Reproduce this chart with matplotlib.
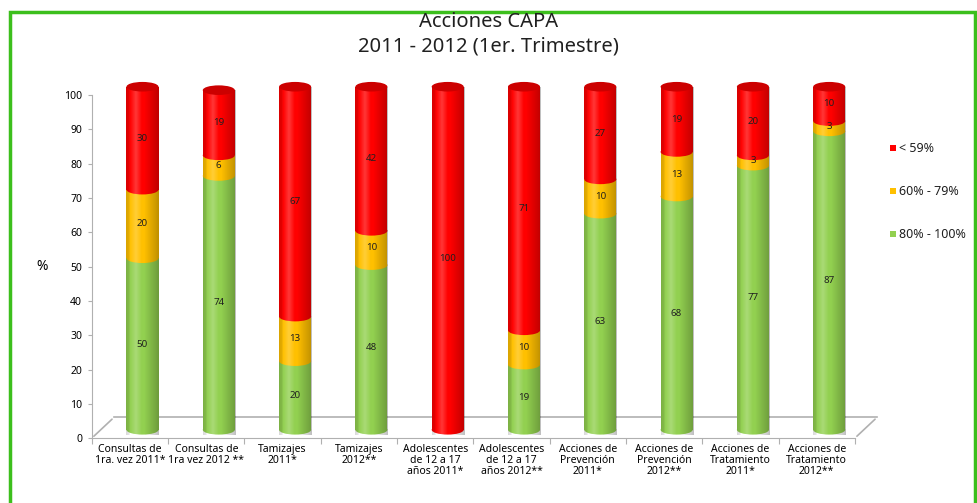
import matplotlib.pyplot as plt
import matplotlib.transforms as mtransforms
from matplotlib.patches import Ellipse, Rectangle
import numpy as np

plt.rcParams['font.family'] = ['Noto Sans', 'DejaVu Sans']

# Datos del grafico
categorias = ['Consultas de\n1ra. vez 2011*', 'Consultas de\n1ra vez 2012 **', 'Tamizajes\n2011*',
              'Tamizajes\n2012**', 'Adolescentes\nde 12 a 17\naños 2011*', 'Adolescentes\nde 12 a 17\naños 2012**',
              'Acciones de\nPrevención\n2011*', 'Acciones de\nPrevención\n2012**',
              'Acciones de\nTratamiento\n2011*', 'Acciones de\nTratamiento\n2012**']
verde = [50, 74, 20, 48, 0, 19, 63, 68, 77, 87]      # 80% - 100%
amarillo = [20, 6, 13, 10, 0, 10, 10, 13, 3, 3]     # 60% - 79%
rojo = [30, 19, 67, 42, 100, 71, 27, 19, 20, 10]    # < 59%
series = [('80% - 100%', verde, '#92d050'), ('60% - 79%', amarillo, '#ffc000'), ('< 59%', rojo, '#ff0000')]
oscuros = {'#92d050': '#6aa82a', '#ffc000': '#e09a00', '#ff0000': '#cc0000'}

fig = plt.figure(figsize=(9.77, 5.03), dpi=100)
ax = fig.add_axes([0.094, 0.129, 0.781, 0.682])

# Marco verde
fig.patches.append(Rectangle((10 / 977, -0.05), 965 / 977, 1 - 12 / 503 + 0.05, transform=fig.transFigure,
                             fill=False, edgecolor='#3cbf1c', linewidth=2.5))

x = np.arange(len(categorias))
ancho = 0.42
ax.set_xlim(-0.5, len(categorias) - 0.5)
ax.set_ylim(0, 100)

# Piso 3D
prof = mtransforms.offset_copy(ax.transData, fig=fig, x=16, y=15, units='points')
ax.plot([-0.5, 9.5], [0, 0], color='#b0b0b0', lw=1.2, transform=prof, clip_on=False)
for xa in (-0.5, 9.5):
    ax.annotate('', xy=(xa, 0), xycoords=prof, xytext=(xa, 0), textcoords='data',
                arrowprops=dict(arrowstyle='-', color='#b0b0b0', lw=1.2), annotation_clip=False)

# Barras cilindricas (desplazadas a media profundidad)
tb = mtransforms.offset_copy(ax.transData, fig=fig, x=9, y=6, units='points')
grad = np.linspace(-1, 1, 60)
sombra = np.zeros((1, 60, 4))
s = np.where(grad < -0.4, -(grad + 0.4) / 0.6 * 0.15, 0) + np.where(grad > 0.1, (grad - 0.1) * 0.28, 0)
luz = np.clip(0.22 - np.abs(grad + 0.4) * 0.6, 0, None)
sombra[0, :, :3] = np.where((luz > 0)[:, None], 1.0, 0.0)
sombra[0, :, 3] = np.where(luz > 0, luz, s)
eh = 2.8
for i in range(len(categorias)):
    base = 0
    segs = []
    for nombre, vals, col in series:
        v = vals[i]
        if v == 0:
            continue
        segs.append((base, v, col))
        base += v
    for k, (b, v, col) in enumerate(segs):
        ax.add_patch(Rectangle((x[i] - ancho / 2, b), ancho, v, facecolor=col, edgecolor='none',
                               transform=tb, clip_on=False, zorder=2))
        ax.add_patch(Ellipse((x[i], b), ancho, eh, facecolor=col, edgecolor='none',
                             transform=tb, clip_on=False, zorder=2.5 + k))
        ax.text(x[i], b + v / 2, str(v), transform=tb, ha='center', va='center', fontsize=7,
                color='#202020', zorder=6)
    tot = segs[-1][0] + segs[-1][1]
    ax.imshow(sombra, extent=(x[i] - ancho / 2, x[i] + ancho / 2, -eh / 2, tot), aspect='auto',
              transform=tb, zorder=5, clip_on=False, interpolation='bilinear')
    ax.add_patch(Ellipse((x[i], tot), ancho, eh, facecolor=oscuros[segs[-1][2]], edgecolor='none',
                         transform=tb, clip_on=False, zorder=5.5))
ax.set_xlim(-0.5, len(categorias) - 0.5)
ax.set_ylim(0, 100)

# Ejes
ax.set_yticks(np.arange(0, 101, 10))
ax.set_xticks(np.arange(-0.5, len(categorias), 1))
ax.set_xticklabels([])
ax.set_xticks(x, minor=True)
ax.set_xticklabels(categorias, minor=True, fontsize=7.5, linespacing=1.05)
ax.tick_params(axis='x', which='minor', length=0, pad=4)
ax.tick_params(axis='x', which='major', length=4, color='#b0b0b0')
ax.tick_params(axis='y', labelsize=7.5, length=3, color='#b0b0b0', pad=4)
for lado in ('top', 'right'):
    ax.spines[lado].set_visible(False)
ax.spines['left'].set_color('#b0b0b0')
ax.spines['bottom'].set_color('#b0b0b0')
ax.set_ylabel('%', rotation=0, fontsize=10, labelpad=16, va='center')

fig.text(0.5, 0.957, 'Acciones CAPA', ha='center', va='center', fontsize=14.5, color='#202020')
fig.text(0.5, 0.907, '2011 - 2012 (1er. Trimestre)', ha='center', va='center', fontsize=14.5, color='#202020')

# Leyenda
leg_y = [148, 191, 234]
for (nombre, vals, col), yy in zip(reversed(series), leg_y):
    fig.patches.append(Rectangle((890 / 977, 1 - (yy + 3) / 503), 6 / 977, 6 / 503, transform=fig.transFigure,
                                 facecolor=col, edgecolor='none'))
    fig.text(899 / 977, 1 - yy / 503, nombre, fontsize=9, va='center', ha='left', color='#202020')

fig.savefig('out.png', dpi=100)
